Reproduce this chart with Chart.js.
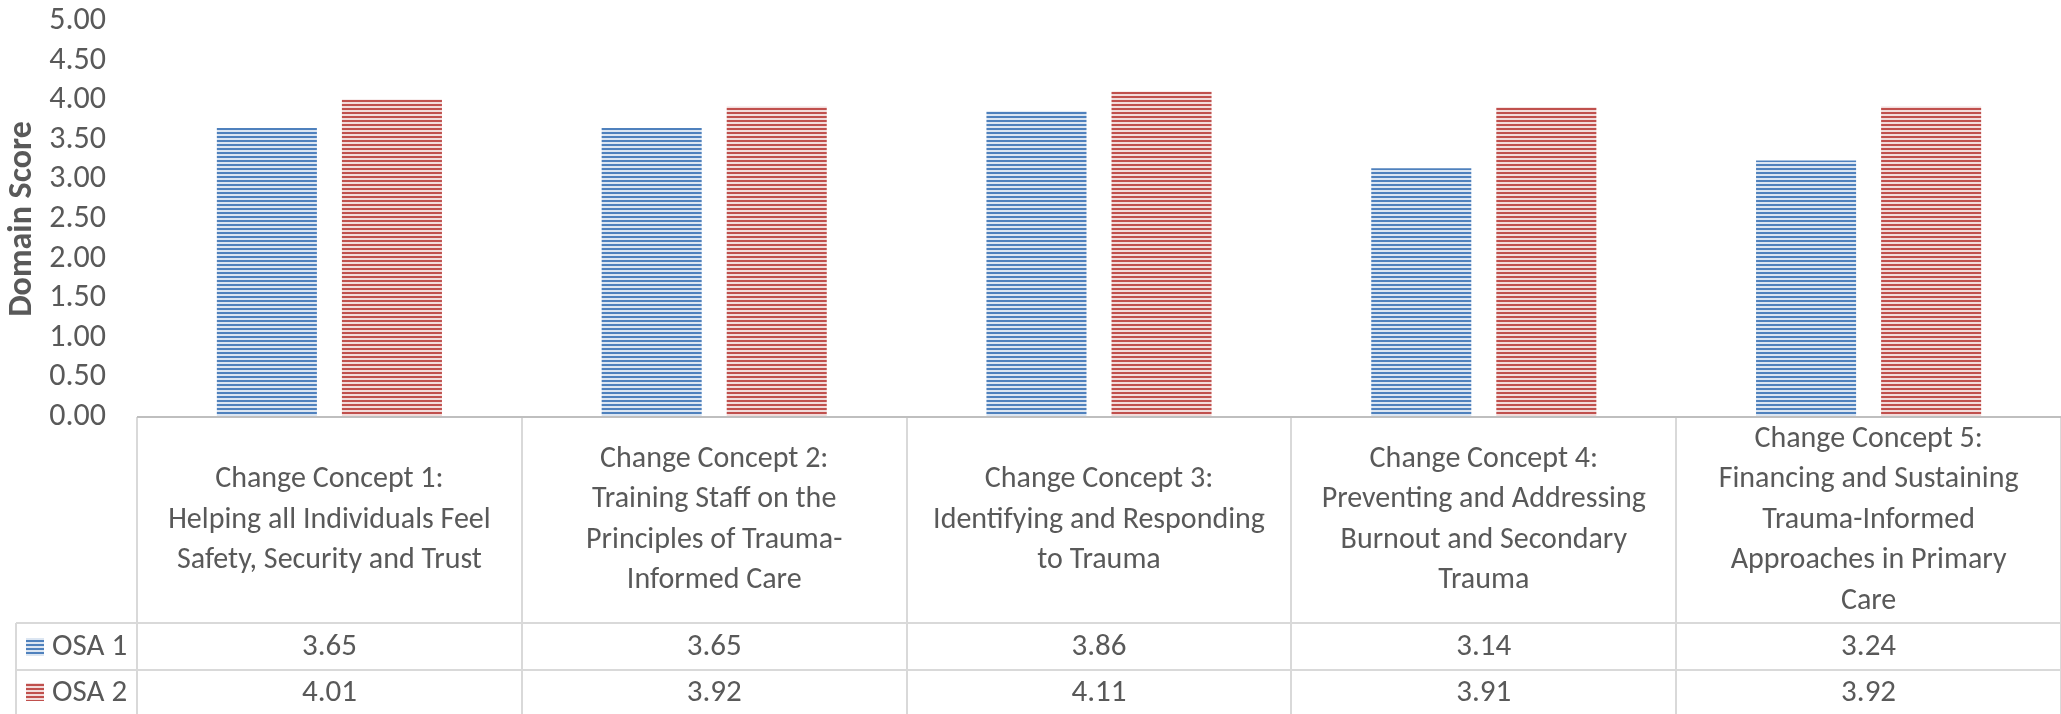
<!DOCTYPE html>
<html>
<head>
<meta charset="utf-8">
<script src="https://cdn.jsdelivr.net/npm/chart.js@4.4.0/dist/chart.umd.min.js"></script>
<style>
  html, body { margin: 0; padding: 0; background: #ffffff; }
  #wrap { width: 2061px; height: 714px; }
</style>
</head>
<body>
<div id="wrap"><canvas id="c" width="2061" height="714"></canvas></div>
<script>
const categories = [
  ["Change Concept 1:", "Helping all Individuals Feel", "Safety, Security and Trust"],
  ["Change Concept 2:", "Training Staff on the", "Principles of Trauma-", "Informed Care"],
  ["Change Concept 3:", "Identifying and Responding", "to Trauma"],
  ["Change Concept 4:", "Preventing and Addressing", "Burnout and Secondary", "Trauma"],
  ["Change Concept 5:", "Financing and Sustaining", "Trauma-Informed", "Approaches in Primary", "Care"]
];
const seriesNames = ["OSA 1", "OSA 2"];
const osa1 = [3.65, 3.65, 3.86, 3.14, 3.24];
const osa2 = [4.01, 3.92, 4.11, 3.91, 3.92];
const yMin = 0, yMax = 5, yStep = 0.5;
const yTitle = "Domain Score";

const FONT = "Carlito, Lato, sans-serif";
const TEXT = "#595959";

function stripePattern(dark, light) {
  const p = document.createElement('canvas');
  p.width = 4; p.height = 4;
  const g = p.getContext('2d');
  g.fillStyle = light; g.fillRect(0, 0, 4, 4);
  g.fillStyle = dark; g.fillRect(0, 0, 4, 2);
  return document.getElementById('c').getContext('2d').createPattern(p, 'repeat');
}
const bluePat = stripePattern('#4F81BD', '#DCE6F2');
const redPat = stripePattern('#C0504D', '#F2DCDB');
const pats = [bluePat, redPat];
const seriesData = [osa1, osa2];

const tablePlugin = {
  id: 'dataTable',
  afterDraw(chart) {
    const ctx = chart.ctx;
    const xs = chart.scales.x;
    const area = chart.chartArea;
    const n = categories.length;
    const colW = (xs.right - xs.left) / n;
    const top = area.bottom;
    const catBottom = top + 206;
    const row1Bottom = catBottom + 47;
    const row2Bottom = chart.height;
    const legLeft = 16;
    const bounds = [];
    for (let i = 0; i < n; i++) bounds.push(xs.getPixelForValue(i) - colW / 2);
    bounds.push(xs.right);

    ctx.save();
    ctx.strokeStyle = '#D9D9D9';
    ctx.lineWidth = 2;
    ctx.beginPath();
    for (let i = 0; i < bounds.length; i++) {
      ctx.moveTo(Math.round(bounds[i]), top);
      ctx.lineTo(Math.round(bounds[i]), row2Bottom);
    }
    ctx.moveTo(legLeft, catBottom); ctx.lineTo(legLeft, row2Bottom);
    ctx.moveTo(legLeft, catBottom); ctx.lineTo(xs.right, catBottom);
    ctx.moveTo(legLeft, row1Bottom); ctx.lineTo(xs.right, row1Bottom);
    ctx.stroke();
    ctx.strokeStyle = '#BFBFBF';
    ctx.lineWidth = 2;
    ctx.beginPath();
    ctx.moveTo(xs.left, top); ctx.lineTo(xs.right, top);
    ctx.stroke();

    ctx.fillStyle = TEXT;
    ctx.font = '30px ' + FONT;
    ctx.textAlign = 'center';
    ctx.textBaseline = 'middle';
    const lh = 40.5;
    const catMid = (top + catBottom) / 2;
    categories.forEach((lines, i) => {
      const cx = xs.getPixelForValue(i);
      const y0 = catMid - (lines.length - 1) * lh / 2;
      lines.forEach((t, k) => ctx.fillText(t, cx, y0 + k * lh));
    });

    ctx.font = '31px ' + FONT;
    const rows = [[catBottom, row1Bottom], [row1Bottom, row2Bottom]];
    rows.forEach((r, s) => {
      const mid = (r[0] + r[1]) / 2;
      ctx.textAlign = 'center';
      seriesData[s].forEach((v, i) => {
        ctx.fillText(v.toFixed(2), xs.getPixelForValue(i), mid + 1);
      });
      ctx.fillStyle = pats[s];
      ctx.fillRect(26, Math.round(mid - 9), 18, 18);
      ctx.fillStyle = TEXT;
      ctx.textAlign = 'left';
      ctx.fillText(seriesNames[s], 52, mid + 1);
    });
    ctx.restore();
  }
};

new Chart(document.getElementById('c'), {
  type: 'bar',
  data: {
    labels: categories,
    datasets: [
      { label: seriesNames[0], data: osa1, backgroundColor: bluePat, borderWidth: 0,
        barPercentage: 0.8, categoryPercentage: 0.65 },
      { label: seriesNames[1], data: osa2, backgroundColor: redPat, borderWidth: 0,
        barPercentage: 0.8, categoryPercentage: 0.65 }
    ]
  },
  options: {
    responsive: false,
    animation: false,
    devicePixelRatio: 1,
    layout: { padding: { top: 21, bottom: 297, left: 0, right: 0 } },
    plugins: { legend: { display: false }, tooltip: { enabled: false } },
    scales: {
      x: { display: false, offset: true },
      y: {
        min: yMin, max: yMax,
        grid: { display: true, drawOnChartArea: false, drawTicks: true, tickLength: 31, color: 'rgba(0,0,0,0)' },
        border: { display: false },
        ticks: {
          stepSize: yStep,
          autoSkip: false,
          color: TEXT,
          font: { size: 32, family: FONT, lineHeight: 1 },
          padding: 0,
          callback: v => Number(v).toFixed(2)
        },
        title: {
          display: true, text: yTitle, color: TEXT,
          font: { size: 34, weight: 'bold', family: FONT },
          padding: { top: 2, bottom: 0 }
        },
        afterFit: s => { s.width = 137; }
      }
    }
  },
  plugins: [tablePlugin]
});
</script>
</body>
</html>
